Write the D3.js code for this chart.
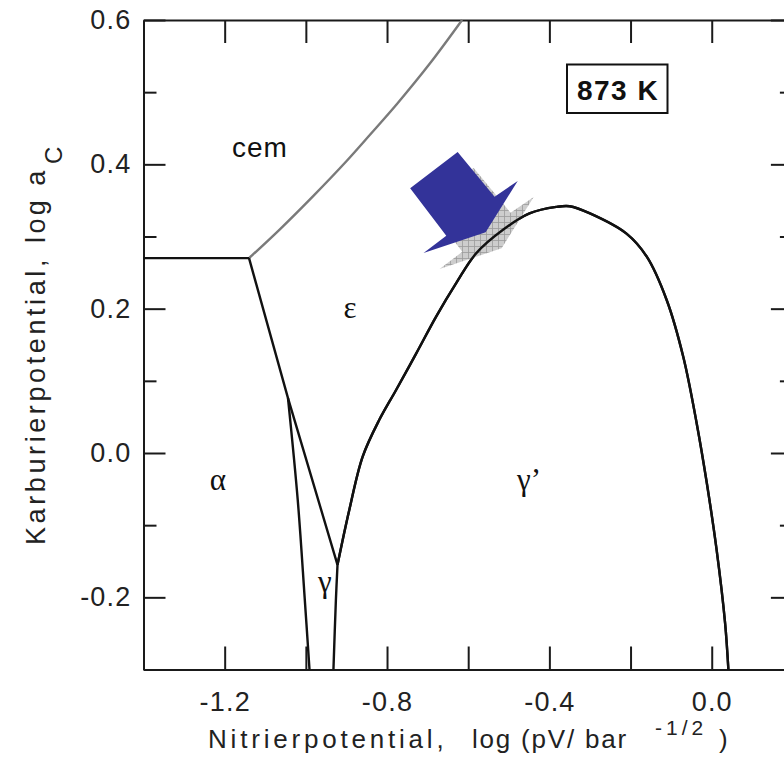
<!DOCTYPE html>
<html>
<head>
<meta charset="utf-8">
<script src="https://cdn.jsdelivr.net/npm/d3@7"></script>
<style>
  body { margin: 0; background: #fff; }
  svg { display: block; }
</style>
</head>
<body>
<svg id="chart"></svg>
<script>
// phase boundaries, x = log(pN), y = log aC
const cemBoundary = [[-1.140, 0.270], [-1.064, 0.310], [-0.982, 0.356], [-0.899, 0.405],
  [-0.842, 0.441], [-0.775, 0.484], [-0.694, 0.540], [-0.615, 0.600]];
const alphaCem = [[-1.4, 0.270], [-1.140, 0.270]];
const epsBoundary = [[-1.140, 0.270], [-1.044, 0.076], [-0.922, -0.155]];
const alphaGamma = [[-1.044, 0.076], [-1.020, -0.065], [-1.003, -0.200], [-0.991, -0.300]];
const gammaGammaP = [[-0.922, -0.155], [-0.926, -0.204], [-0.932, -0.300]];
const gammaPrime = [[-0.922, -0.155], [-0.893, -0.079], [-0.860, -0.005], [-0.819, 0.046],
  [-0.778, 0.087], [-0.728, 0.138], [-0.679, 0.189], [-0.630, 0.235], [-0.580, 0.277],
  [-0.515, 0.309], [-0.449, 0.332], [-0.383, 0.341], [-0.350, 0.342], [-0.300, 0.332],
  [-0.210, 0.304], [-0.160, 0.272], [-0.111, 0.212], [-0.070, 0.133], [-0.037, 0.041],
  [-0.012, -0.042], [0.012, -0.134], [0.033, -0.236], [0.041, -0.300]];

// arrow pointing at the working area
const arrowShape = [[-0.626, 0.417], [-0.535, 0.355], [-0.478, 0.377], [-0.557, 0.306],
  [-0.710, 0.277], [-0.654, 0.301], [-0.743, 0.367]];

const phaseNames = ["cem", "\u03b5", "\u03b1", "\u03b3\u2019", "\u03b3"];
const phaseX = [-1.113, -0.891, -1.217, -0.450, -0.953];
const phaseY = [0.410, 0.187, -0.051, -0.051, -0.193];

const xTicks = [-1.2, -1.0, -0.8, -0.6, -0.4, -0.2, 0.0];
const xLabelled = [-1.2, -0.8, -0.4, 0.0];
const yMajor = [-0.2, 0.0, 0.2, 0.4, 0.6];
const yMinor = [-0.3, -0.1, 0.1, 0.3, 0.5];
const tempLabel = "873 K";

var svgWidth = 784, svgHeight = 757;
var svg = d3.select("#chart").attr("width", svgWidth).attr("height", svgHeight);

var x = d3.scaleLinear().domain([-1.4, 0.2]).range([143.5, 792.9]);
var y = d3.scaleLinear().domain([-0.3, 0.6]).range([669.5, 20]);

var axisColor = "#1a1a1a";

// shadow hatch pattern
var defs = svg.append("defs");
var pat = defs.append("pattern")
    .attr("id", "hatch")
    .attr("patternUnits", "userSpaceOnUse")
    .attr("width", 6).attr("height", 6);
pat.append("rect").attr("width", 6).attr("height", 6).attr("fill", "#cdcdcd");
pat.append("path").attr("d", "M0,0.5H6M0.5,0V6")
    .attr("stroke", "#9a9a9a").attr("stroke-width", 0.8);

function styleAxis(g) {
    g.select(".domain").attr("stroke", axisColor).attr("stroke-width", 2);
    g.selectAll(".tick line").attr("stroke", axisColor).attr("stroke-width", 2);
    g.selectAll(".tick text")
        .attr("fill", "#222")
        .style("font-family", "'Liberation Sans', Arial, sans-serif")
        .style("font-size", "27px")
        .style("letter-spacing", "1.2px");
}

// bottom axis
svg.append("g")
    .attr("transform", "translate(0," + y(-0.3) + ")")
    .call(d3.axisBottom(x).tickValues(xTicks).tickSizeInner(-23).tickSizeOuter(0).tickPadding(22)
        .tickFormat(d => xLabelled.some(v => Math.abs(v - d) < 1e-9) ? d.toFixed(1) : ""))
    .call(styleAxis);

// top axis
svg.append("g")
    .attr("transform", "translate(0," + y(0.6) + ")")
    .call(d3.axisTop(x).tickValues(xTicks).tickSizeInner(-23).tickSizeOuter(0).tickFormat(""))
    .call(styleAxis);

// left axis, major + minor
svg.append("g")
    .attr("transform", "translate(" + x(-1.4) + ",0)")
    .call(d3.axisLeft(y).tickValues(yMajor).tickSizeInner(-22).tickSizeOuter(0).tickPadding(12)
        .tickFormat(d => d.toFixed(1)))
    .call(styleAxis);
svg.append("g")
    .attr("transform", "translate(" + x(-1.4) + ",0)")
    .call(d3.axisLeft(y).tickValues(yMinor).tickSizeInner(-13).tickSizeOuter(0).tickFormat(""))
    .call(styleAxis);

// right axis
svg.append("g")
    .attr("transform", "translate(" + x(0.2) + ",0)")
    .call(d3.axisRight(y).tickValues(yMajor).tickSizeInner(-22).tickSizeOuter(0).tickFormat(""))
    .call(styleAxis);
svg.append("g")
    .attr("transform", "translate(" + x(0.2) + ",0)")
    .call(d3.axisRight(y).tickValues(yMinor).tickSizeInner(-13).tickSizeOuter(0).tickFormat(""))
    .call(styleAxis);

// boundaries
var straight = d3.line().x(d => x(d[0])).y(d => y(d[1]));
var smooth = d3.line().x(d => x(d[0])).y(d => y(d[1])).curve(d3.curveCatmullRom.alpha(0.5));

svg.append("path").datum(cemBoundary)
    .attr("d", smooth).attr("fill", "none")
    .attr("stroke", "#7a7a7a").attr("stroke-width", 2.4);

[alphaCem, epsBoundary].forEach(function(seg) {
    svg.append("path").datum(seg)
        .attr("d", straight).attr("fill", "none")
        .attr("stroke", "#111").attr("stroke-width", 2.4).attr("stroke-linejoin", "round");
});
[alphaGamma, gammaGammaP, gammaPrime].forEach(function(seg) {
    svg.append("path").datum(seg)
        .attr("d", smooth).attr("fill", "none")
        .attr("stroke", "#111").attr("stroke-width", 2.4).attr("stroke-linejoin", "round");
});

// arrow with hatched shadow
var arrowPts = arrowShape.map(d => [x(d[0]), y(d[1])]);
svg.append("polygon")
    .attr("points", arrowPts.map(p => (p[0] + 16) + "," + (p[1] + 16)).join(" "))
    .attr("fill", "url(#hatch)");
svg.append("polygon")
    .attr("points", arrowPts.map(p => p.join(",")).join(" "))
    .attr("fill", "#333399");

// redraw the curve over the shadow so it stays visible
svg.append("path").datum(gammaPrime)
    .attr("d", smooth).attr("fill", "none")
    .attr("stroke", "#111").attr("stroke-width", 2.4);

// phase labels
phaseNames.forEach(function(name, i) {
    svg.append("text")
        .attr("x", x(phaseX[i]))
        .attr("y", y(phaseY[i]))
        .attr("text-anchor", "middle")
        .attr("fill", "#111")
        .style("font-family", i === 0 ? "'Liberation Sans', Arial, sans-serif" : "'Liberation Serif', 'Times New Roman', serif")
        .style("font-size", i === 0 ? "28px" : "31px")
        .style("letter-spacing", i === 0 ? "1px" : "0px")
        .text(name);
});

// temperature box
svg.append("rect")
    .attr("x", 567).attr("y", 64.5)
    .attr("width", 100.5).attr("height", 48.5)
    .attr("fill", "#fff").attr("stroke", "#111").attr("stroke-width", 2);
svg.append("text")
    .attr("x", 618).attr("y", 100)
    .attr("text-anchor", "middle")
    .attr("fill", "#111")
    .style("font-family", "'Liberation Sans', Arial, sans-serif")
    .style("font-size", "28px")
    .style("font-weight", "bold")
    .style("letter-spacing", "1.5px")
    .text(tempLabel);

// axis titles
var titleFont = "'Liberation Sans', Arial, sans-serif";
var xt = svg.append("text")
    .attr("y", 748)
    .attr("fill", "#222")
    .style("font-family", titleFont)
    .style("font-size", "26px");
xt.append("tspan").attr("x", 208).style("letter-spacing", "3.8px").text("Nitrierpotential,");
xt.append("tspan").attr("x", 472).style("letter-spacing", "1.8px").text("log (pV/ bar");
xt.append("tspan").attr("x", 655).attr("y", 735).style("font-size", "21px").style("letter-spacing", "4px").text("-1/2");
xt.append("tspan").attr("x", 719).attr("y", 748).text(")");

var yt = svg.append("text")
    .attr("transform", "translate(45,545) rotate(-90)")
    .attr("fill", "#222")
    .style("font-family", titleFont)
    .style("font-size", "27px");
yt.append("tspan").attr("x", 0).style("letter-spacing", "3.6px").text("Karburierpotential,");
yt.append("tspan").attr("x", 302).style("letter-spacing", "3.4px").text("log a");
yt.append("tspan").attr("x", 381).attr("dy", 17).style("font-size", "24px").text("C");
</script>
</body>
</html>
